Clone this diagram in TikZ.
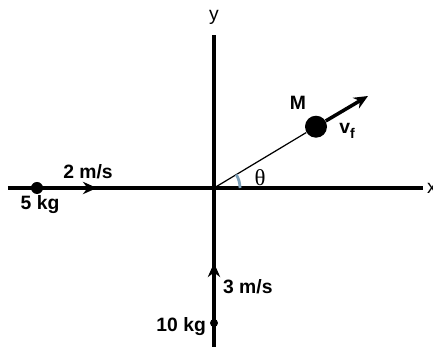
\documentclass[tikz,border=0pt]{standalone}
\usepackage{fontspec}
\setmainfont{Liberation Sans}
\newfontfamily\greekfont{Liberation Serif}
\usetikzlibrary{arrows.meta,positioning,calc}
\definecolor{ink}{RGB}{0,0,0}
\definecolor{arcblue}{RGB}{125,160,185}
\tikzset{
  every picture/.style={color=ink, font=\fontsize{11}{12}\selectfont\bfseries},
  axis/.style={line width=2pt},
  ball/.style={circle, fill=ink, inner sep=0pt},
  path/.style={line width=0.7pt},
  velo/.style={line width=2pt, -{Stealth[length=8pt,width=7pt]}},
  lbl/.style={inner sep=1pt},
  axlbl/.style={font=\fontsize{11}{12}\selectfont, inner sep=1pt},
}
\begin{document}
\begin{tikzpicture}[x=0.02cm, y=0.02cm]
  \useasboundingbox (-214,-159) rectangle (219,188);
  % axes
  \coordinate (o) at (0,0);
  \coordinate (xl) at (-206,0);
  \coordinate (xr) at (209,0);
  \coordinate (yb) at (0,-159);
  \coordinate (yt) at (0,153);
  \draw[axis] (xl) -- (xr);
  \draw[axis] (yb) -- (yt);
  \node[axlbl, anchor=west] (xlab) at (211,0) {x};
  \node[axlbl] (ylab) at (0,171) {y};
  % incoming masses
  \node[ball, minimum size=12*0.02cm] (m5) at (-177,0) {};
  \coordinate (a5) at (-117,0);
  \draw[velo] (m5) -- (a5);
  \node[lbl] (v5) at (-126,16) {2 m/s};
  \node[lbl] (k5) at (-174,-17) {5 kg};
  \node[ball, minimum size=8*0.02cm] (m10) at (0,-135) {};
  \coordinate (a10) at (0,-75);
  \draw[velo] (m10) -- (a10);
  \node[lbl, anchor=west] (v10) at (7,-99) {3 m/s};
  \node[lbl, anchor=east] (k10) at (-6,-139) {10 kg};
  % combined mass
  \node[ball, minimum size=22*0.02cm] (mm) at (31:119) {};
  \coordinate (af) at (154,92);
  \draw[path] (o) -- (mm);
  \draw[velo] (mm) -- (af);
  \node[lbl] (mlab) at (84,85) {M};
  \node[lbl] (vf) at (133,57) {v\raisebox{-0.45ex}{\fontsize{8}{9}\selectfont f}};
  \draw[arcblue, line width=1.6pt] (26,0) arc[start angle=0, end angle=31, radius=26];
  \node[lbl, font=\fontsize{13}{14}\selectfont\greekfont] (th) at (46,10) {θ};
\end{tikzpicture}
\end{document}
